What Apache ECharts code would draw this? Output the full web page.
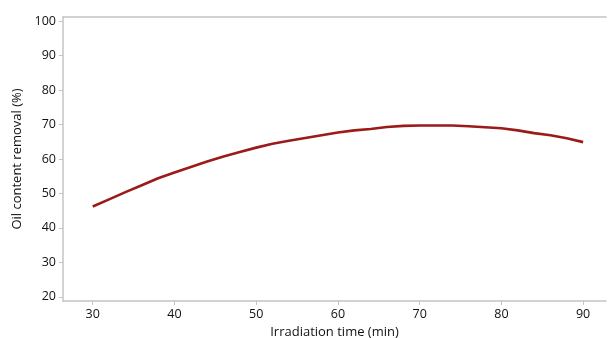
<!DOCTYPE html>
<html>
<head>
<meta charset="utf-8">
<script src="https://cdn.jsdelivr.net/npm/echarts@6/dist/echarts.min.js"></script>
<style>
  html, body { margin: 0; padding: 0; background: #fff; }
  #chart { width: 608px; height: 338px; }
</style>
</head>
<body>
<div id="chart"></div>
<script>
// irradiation time (min) and oil content removal (%)
const times = [30, 32, 34, 36, 38, 40, 42, 44, 46, 48, 50, 52, 54, 56, 58, 60,
  62, 64, 66, 68, 70, 72, 74, 76, 78, 80, 82, 84, 86, 88, 90]
const removal = [46.2, 48.3, 50.4, 52.4, 54.4, 56.1, 57.7, 59.3, 60.7, 62.0, 63.3,
  64.4, 65.3, 66.1, 66.9, 67.7, 68.3, 68.7, 69.3, 69.6, 69.7, 69.7, 69.7, 69.5,
  69.2, 68.9, 68.3, 67.5, 66.9, 66.0, 64.9]
const xTicks = [30, 40, 50, 60, 70, 80, 90]
const yTicks = [20, 30, 40, 50, 60, 70, 80, 90, 100]

const font = '"Open Sans", "Noto Sans", sans-serif'
const axisGray = '#c4c4c4'
const textColor = '#111'

const chart = echarts.init(document.getElementById('chart'), undefined, { renderer: 'canvas' })
chart.setOption({
  animation: false,
  grid: { left: 63, right: 2, top: 17, bottom: 37, outerBoundsMode: 'none', containLabel: false },
  xAxis: [
    {
      type: 'value',
      min: 26.36,
      max: 92.8,
      name: 'Irradiation time (min)',
      nameLocation: 'middle',
      nameGap: 21,
      nameTextStyle: { color: textColor, fontSize: 13, fontFamily: font },
      axisLine: { show: true, lineStyle: { color: axisGray, width: 1.5 } },
      axisTick: { show: true, length: 4, lineStyle: { color: axisGray }, customValues: xTicks },
      axisLabel: { color: textColor, fontSize: 12.5, fontFamily: font, margin: 7, customValues: xTicks },
      splitLine: { show: false },
    },
    {
      type: 'value',
      position: 'top',
      min: 26.36,
      max: 92.8,
      axisLine: { show: true, lineStyle: { color: axisGray, width: 1.5 } },
      axisTick: { show: false },
      axisLabel: { show: false },
      splitLine: { show: false },
    },
  ],
  yAxis: {
    type: 'value',
    min: 18.8,
    max: 101.2,
    name: 'Oil content removal (%)',
    nameLocation: 'middle',
    nameGap: 36,
    nameTextStyle: { color: textColor, fontSize: 13, fontFamily: font },
    axisLine: { show: true, lineStyle: { color: axisGray, width: 1.5 } },
    axisTick: { show: true, length: 4, lineStyle: { color: axisGray }, customValues: yTicks },
    axisLabel: { color: textColor, fontSize: 12.5, fontFamily: font, margin: 7, customValues: yTicks },
    splitLine: { show: false },
  },
  series: [
    {
      type: 'line',
      data: times.map((t, i) => [t, removal[i]]),
      showSymbol: false,
      smooth: false,
      lineStyle: { color: '#9b1a1a', width: 2.6 },
    },
  ],
})
</script>
</body>
</html>
